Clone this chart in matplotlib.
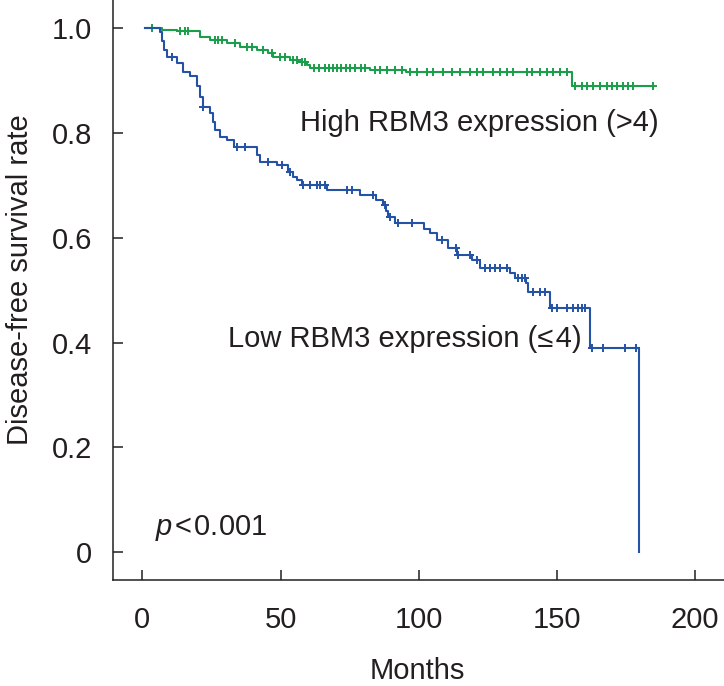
import numpy as np
import matplotlib
matplotlib.use("Agg")
import matplotlib.pyplot as plt

plt.rcParams['font.family'] = ['Liberation Sans', 'DejaVu Sans']
plt.rcParams['mathtext.fontset'] = 'custom'
plt.rcParams['mathtext.it'] = 'Liberation Sans:italic'
plt.rcParams['mathtext.rm'] = 'Liberation Sans'

# low RBM3 expression (<=4): event times (months) and survival after each event
low_t = [1, 6.5, 7.2, 7.8, 8.8, 12.4, 14.8, 17.3, 19.7, 20.9, 21.8, 24.5, 25.5,
         26.3, 28.1, 30.5, 33.0, 41.4, 42.6, 48.6, 52.8, 54.5, 55.8, 57.6, 66.7,
         78.7, 84.7, 87.1, 88.3, 88.8, 91.4, 102.0, 104.2, 106.6, 110.4, 113.9,
         119.1, 122.1, 133.0, 134.9, 138.8, 139.6, 147.4, 161.9, 179.6]
low_s = [1.0, 0.992, 0.975, 0.959, 0.946, 0.933, 0.917, 0.908, 0.889, 0.869,
         0.849, 0.838, 0.822, 0.806, 0.793, 0.787, 0.774, 0.758, 0.745, 0.739,
         0.726, 0.716, 0.710, 0.701, 0.691, 0.682, 0.672, 0.663, 0.652, 0.640,
         0.628, 0.617, 0.609, 0.596, 0.580, 0.567, 0.558, 0.542, 0.532, 0.523,
         0.513, 0.497, 0.465, 0.389, 0.0]
low_cens = [10.6, 22.1, 34.1, 37.1, 45.6, 50.5, 53.5, 58.2, 60.5, 63.3, 64.2,
            66.0, 73.9, 75.7, 83.5, 87.7, 89.6, 92.6, 97.4, 108.3, 113.3, 114.3,
            118.5, 120.9, 123.9, 125.8, 127.6, 129.4, 131.8, 135.9, 137.2, 138.4,
            141.4, 143.8, 145.6, 148.1, 149.9, 153.5, 155.9, 157.7, 158.9, 160.1,
            162.5, 166.5, 174.6, 178.6]

# high RBM3 expression (>4)
high_t = [1, 7.0, 12.5, 20.9, 24.5, 30.5, 35.3, 41.4, 45.6, 47.4, 53.4, 56.4,
          59.4, 60.6, 82.3, 95.5, 155.5, 184.8]
high_s = [1.0, 0.997, 0.994, 0.984, 0.978, 0.971, 0.965, 0.959, 0.952, 0.946,
          0.939, 0.936, 0.930, 0.924, 0.920, 0.917, 0.890, 0.890]
high_cens = [3.4, 13.6, 15.4, 16.6, 26.3, 27.4, 28.7, 33.5, 37.8, 39.6, 43.8,
             46.8, 49.8, 51.6, 54.5, 56.0, 57.6, 59.0, 62.0, 64.0, 66.0, 67.5,
             69.0, 70.5, 72.0, 73.5, 75.0, 77.0, 79.0, 80.5, 84.3, 86.0, 88.4,
             91.4, 93.8, 96.8, 99.3, 102.9, 105.1, 108.7, 112.0, 114.9, 118.5,
             121.0, 123.2, 126.8, 129.3, 131.8, 133.9, 139.0, 140.8, 143.7,
             146.2, 148.4, 151.0, 153.5, 156.5, 158.9, 160.7, 163.1, 165.5,
             167.9, 169.8, 171.6, 174.0, 175.8, 177.6, 184.8]

yticks = [0, 0.2, 0.4, 0.6, 0.8, 1.0]
ytick_labels = ['0', '0.2', '0.4', '0.6', '0.8', '1.0']
xticks = [0, 50, 100, 150, 200]

blue = '#2452a4'
green = '#1b9e4b'
ink = '#231f20'


def surv_at(times, surv, t):
    idx = np.searchsorted(times, t, side='right') - 1
    return np.array(surv)[idx]


fig = plt.figure(figsize=(7.24, 6.86), dpi=100)
ax = fig.add_axes([0.1565, 0.1545, 0.8435, 0.8455])

ax.step(high_t, high_s, where='post', color=green, lw=1.5)
ax.plot(high_cens, surv_at(high_t, high_s, high_cens), '+', color=green,
        ms=6, mew=1.4)
ax.step(low_t, low_s, where='post', color=blue, lw=1.5)
ax.plot(low_cens, surv_at(low_t, low_s, low_cens), '+', color=blue,
        ms=6, mew=1.4)

ax.set_xlim(-10.5, 210.4)
ax.set_ylim(-0.0535, 1.054)
ax.set_xticks(xticks)
ax.set_yticks(yticks)
ax.set_yticklabels(ytick_labels)
ax.spines['top'].set_visible(False)
ax.spines['right'].set_visible(False)
for s in ['left', 'bottom']:
    ax.spines[s].set_linewidth(1.1)
    ax.spines[s].set_color(ink)
ax.tick_params(axis='both', direction='in', length=7.2, width=1.1,
               colors=ink, labelsize=21)
ax.tick_params(axis='y', pad=15)
ax.tick_params(axis='x', pad=19)

ax.text(57.0, 0.804, 'High RBM3 expression (>4)', fontsize=21,
        color=ink, va='baseline', ha='left')
ax.text(31.1, 0.392, 'Low RBM3 expression (\u2264\u200a4)', fontsize=21,
        color=ink, va='baseline', ha='left')
ax.text(4.5, 0.0325, r'$p$' + '\u200a<\u200a0.001', fontsize=21, color=ink,
        va='baseline', ha='left')

fig.text(417 / 724, 1 - 679 / 686, 'Months', fontsize=21, color=ink,
         ha='center', va='baseline')
fig.text(19.7 / 724, 1 - 280 / 686, 'Disease-free survival rate', fontsize=21,
         color=ink, rotation=90, ha='center', va='center')

fig.savefig('out.png', dpi=100)
